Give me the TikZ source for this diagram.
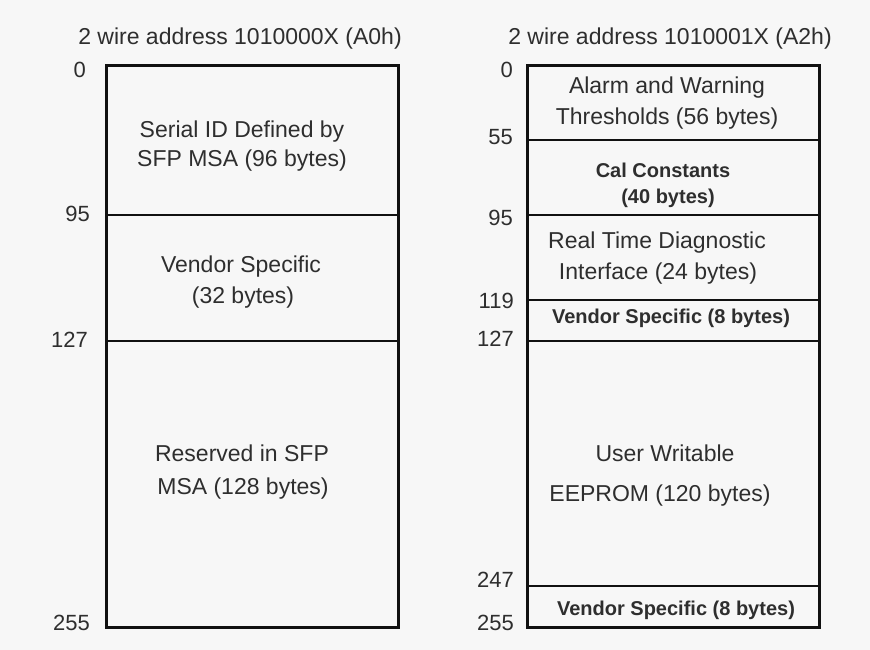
\documentclass[tikz,border=0pt]{standalone}
\usepackage{fontspec}
\setmainfont{Liberation Sans}
\definecolor{bgc}{HTML}{F7F7F7}
\definecolor{txc}{HTML}{2E2E2E}
\definecolor{lnc}{HTML}{111111}
\begin{document}
\begin{tikzpicture}[x=1pt,y=-1pt,
  lbl/.style={font=\fontsize{23}{28}\selectfont, text=txc, anchor=base, inner sep=0pt},
  bld/.style={font=\fontsize{20}{24}\selectfont\bfseries, text=txc, anchor=base, inner sep=0pt},
  num/.style={font=\fontsize{22}{26}\selectfont, text=txc, anchor=base east, inner sep=0pt},
  frame/.style={draw=lnc, line width=3pt},
  divider/.style={draw=lnc, line width=2pt}]
\fill[bgc] (0,0) rectangle (870,650);
\useasboundingbox (0,0) rectangle (870,650);

% titles
\node[lbl] (t0) at (240,45) {2 wire address 1010000X (A0h)};
\node[lbl] (t2) at (670,45) {2 wire address 1010001X (A2h)};

% left box
\coordinate (LTL) at (106,66);
\coordinate (LBR) at (398,627);
\draw[frame] (LTL) rectangle (LBR);
\coordinate (L95a) at (106,215); \coordinate (L95b) at (398,215);
\coordinate (L127a) at (106,341); \coordinate (L127b) at (398,341);
\draw[divider] (L95a) -- (L95b);
\draw[divider] (L127a) -- (L127b);

\node[num] (ln0) at (86,78) {0};
\node[num] (ln95) at (90,221) {95};
\node[num] (ln127) at (88,347) {127};
\node[num] (ln255) at (90,630) {255};

\node[lbl] (l1a) at (242,138) {Serial ID Defined by};
\node[lbl] (l1b) at (242,167) {SFP MSA (96 bytes)};
\node[lbl] (l2a) at (241,272) {Vendor Specific};
\node[lbl] (l2b) at (243,303) {(32 bytes)};
\node[lbl] (l3a) at (242,461) {Reserved in SFP};
\node[lbl] (l3b) at (243,494) {MSA (128 bytes)};

% right box
\coordinate (RTL) at (527,66);
\coordinate (RBR) at (819,627);
\draw[frame] (RTL) rectangle (RBR);
\coordinate (R55a) at (527,140); \coordinate (R55b) at (819,140);
\coordinate (R95a) at (527,215); \coordinate (R95b) at (819,215);
\coordinate (R119a) at (527,300); \coordinate (R119b) at (819,300);
\coordinate (R127a) at (527,341); \coordinate (R127b) at (819,341);
\coordinate (R247a) at (527,586); \coordinate (R247b) at (819,586);
\draw[divider] (R55a) -- (R55b);
\draw[divider] (R95a) -- (R95b);
\draw[divider] (R119a) -- (R119b);
\draw[divider] (R127a) -- (R127b);
\draw[divider] (R247a) -- (R247b);

\node[num] (rn0) at (513,78) {0};
\node[num] (rn55) at (513,145) {55};
\node[num] (rn95) at (513,225) {95};
\node[num] (rn119) at (514,308) {119};
\node[num] (rn127) at (514,346) {127};
\node[num] (rn247) at (514,587) {247};
\node[num] (rn255) at (514,630) {255};

\node[lbl] (r1a) at (667,94) {Alarm and Warning};
\node[lbl] (r1b) at (667,125) {Thresholds (56 bytes)};
\node[bld] (r2a) at (663,177) {Cal Constants};
\node[bld] (r2b) at (668,203) {(40 bytes)};
\node[lbl] (r3a) at (657,248) {Real Time Diagnostic};
\node[lbl] (r3b) at (658,279) {Interface (24 bytes)};
\node[bld] (r4) at (671,323) {Vendor Specific (8 bytes)};
\node[lbl] (r5a) at (665,461) {User Writable};
\node[lbl] (r5b) at (660,501) {EEPROM (120 bytes)};
\node[bld] (r6) at (676,615) {Vendor Specific (8 bytes)};
\end{tikzpicture}
\end{document}
